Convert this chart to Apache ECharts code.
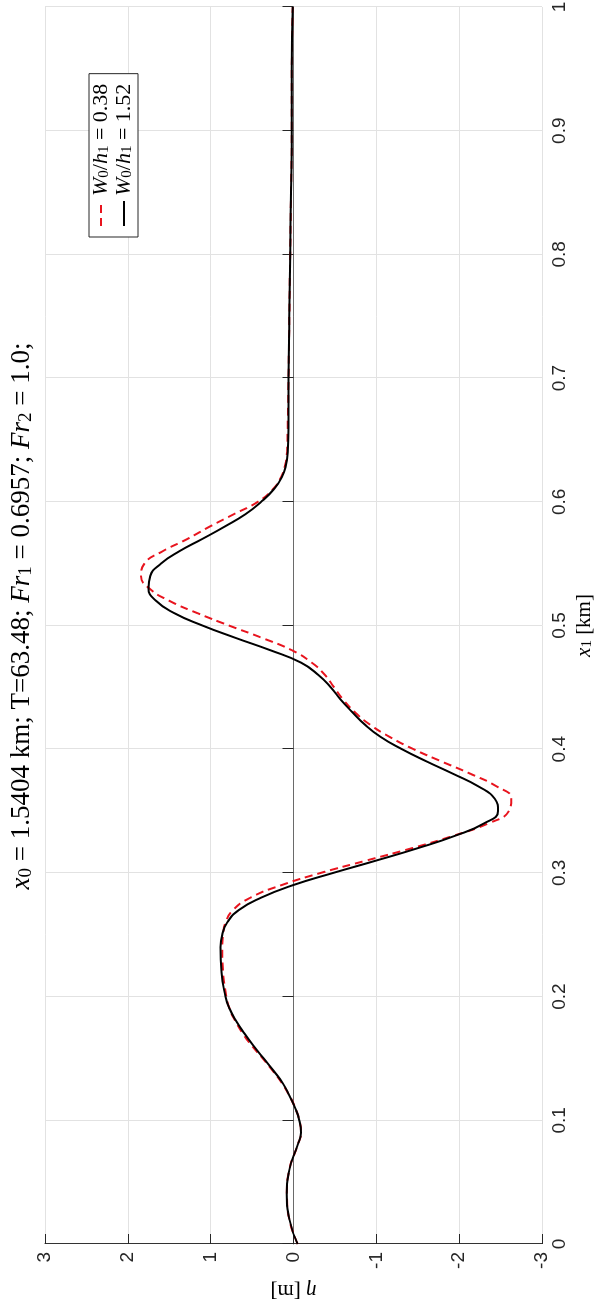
<!DOCTYPE html>
<html>
<head>
<meta charset="utf-8">
<script src="https://cdn.jsdelivr.net/npm/echarts@6/dist/echarts.min.js"></script>
<style>
  html, body { margin: 0; padding: 0; background: #fff; width: 601px; height: 1308px; overflow: hidden; }
  /* the figure is laid out landscape and turned a quarter turn counter-clockwise */
  #chart { position: absolute; left: 0; top: 0; width: 1308px; height: 601px;
           transform-origin: 0 0; transform: translate(0, 1308px) rotate(-90deg); }
</style>
</head>
<body>
<div id="chart"></div>
<script>
// along-channel position x1 [km]
const x1Km = [0, 0.02, 0.04, 0.06, 0.08, 0.09, 0.10, 0.11, 0.12, 0.13, 0.14, 0.15, 0.16, 0.17, 0.18, 0.19, 0.20,
  0.22, 0.24, 0.25, 0.26, 0.27, 0.28, 0.29, 0.30, 0.31, 0.32, 0.33, 0.34, 0.35, 0.36, 0.37, 0.38, 0.39, 0.40,
  0.41, 0.42, 0.43, 0.44, 0.45, 0.46, 0.47, 0.48, 0.49, 0.50, 0.51, 0.52, 0.53, 0.54, 0.55, 0.56, 0.57, 0.58,
  0.59, 0.60, 0.61, 0.62, 0.63, 0.64, 0.66, 0.70, 0.75, 0.80, 0.85, 0.90, 0.95, 1.0];

// interface displacement eta [m], W0/h1 = 0.38
const etaW038 = [-0.05, 0.05, 0.08, 0.05, -0.05, -0.09, -0.07, -0.02, 0.05, 0.14, 0.25, 0.37, 0.50, 0.61, 0.70, 0.77, 0.81,
  0.85, 0.86, 0.85, 0.82, 0.73, 0.52, 0.15, -0.33, -0.88, -1.43, -1.93, -2.35, -2.60, -2.63, -2.45, -2.14, -1.79, -1.45,
  -1.16, -0.92, -0.74, -0.60, -0.49, -0.38, -0.22, 0.02, 0.38, 0.78, 1.16, 1.50, 1.74, 1.84, 1.80, 1.58, 1.28, 1.01,
  0.72, 0.43, 0.25, 0.15, 0.10, 0.08, 0.07, 0.06, 0.05, 0.04, 0.03, 0.02, 0.02, 0.01];

// interface displacement eta [m], W0/h1 = 1.52
const etaW152 = [-0.05, 0.05, 0.08, 0.05, -0.05, -0.09, -0.07, -0.02, 0.05, 0.13, 0.24, 0.36, 0.48, 0.59, 0.69, 0.77, 0.82,
  0.87, 0.88, 0.86, 0.80, 0.66, 0.39, 0.01, -0.48, -1.00, -1.50, -1.95, -2.30, -2.47, -2.43, -2.23, -1.93, -1.61, -1.31,
  -1.05, -0.86, -0.71, -0.57, -0.45, -0.30, -0.09, 0.28, 0.70, 1.10, 1.44, 1.66, 1.75, 1.73, 1.60, 1.38, 1.10, 0.83,
  0.58, 0.39, 0.24, 0.14, 0.09, 0.07, 0.06, 0.06, 0.05, 0.04, 0.03, 0.02, 0.02, 0.01];

const seriesNames = ['W0/h1 = 0.38', 'W0/h1 = 1.52'];
const legendRich = {
  '0.38': '{i|W}{s|0}{n|/}{i|h}{s|1}{n| = 0.38}',
  '1.52': '{i|W}{s|0}{n|/}{i|h}{s|1}{n| = 1.52}'
};
const titleText = '{i|x}{s|0}{n| = 1.5404 km; T=63.48; }{i|Fr}{s|1}{n| = 0.6957; }{i|Fr}{s|2}{n| = 1.0;}';

const SERIF = '"Liberation Serif", "DejaVu Serif", serif';
const SANS = '"Liberation Sans", Arial, sans-serif';
const INK = '#262626';

function richSet(size) {
  return {
    n: { fontFamily: SERIF, fontSize: size, color: '#000' },
    i: { fontFamily: SERIF, fontSize: size, fontStyle: 'italic', color: '#000' },
    s: { fontFamily: SERIF, fontSize: Math.round(size * 0.7), color: '#000', verticalAlign: 'bottom', lineHeight: Math.round(size * 0.6) }
  };
}

const pairs = (ys) => x1Km.map((x, k) => [x, ys[k]]);

const chart = echarts.init(document.getElementById('chart'), null, { renderer: 'canvas' });
chart.setOption({
  animation: false,
  backgroundColor: '#fff',
  grid: { left: 64, right: 7, top: 45, bottom: 59, containLabel: false, outerBoundsMode: 'none' },
  graphic: [{
    type: 'text', x: 692, y: 22, z: 10,
    style: { text: titleText, rich: richSet(27), align: 'center', verticalAlign: 'middle',
             fontFamily: SERIF, fontSize: 27, fill: '#000' }
  }],
  legend: {
    orient: 'vertical', left: 1071, top: 89,
    padding: [1, 10, 3, 10], itemGap: 1, itemWidth: 25, itemHeight: 20,
    borderColor: INK, borderWidth: 1, borderRadius: 0, backgroundColor: '#fff',
    data: seriesNames,
    itemStyle: { opacity: 0 },
    formatter: (name) => legendRich[name.slice(-4)],
    textStyle: { fontFamily: SERIF, fontSize: 22, color: '#000', rich: richSet(22) }
  },
  xAxis: {
    type: 'value', min: 0, max: 1, interval: 0.1,
    name: '{i|x}{s|1}{n| [km]}', nameLocation: 'middle', nameGap: 31,
    nameTextStyle: { fontFamily: SERIF, fontSize: 21, color: INK, rich: richSet(21) },
    axisLine: { show: true, lineStyle: { color: '#6a6a6a', width: 1 } },
    axisTick: { show: true, inside: true, length: 11, lineStyle: { color: INK } },
    axisLabel: { fontFamily: SANS, fontSize: 19, color: INK, margin: 8, hideOverlap: false },
    splitLine: { show: true, lineStyle: { color: '#e2e2e2', width: 1 } }
  },
  yAxis: {
    type: 'value', min: -3, max: 3, interval: 1,
    name: '{i|η}{n| [m]}', nameLocation: 'middle', nameGap: 33, nameRotate: 90,
    nameTextStyle: { fontFamily: SERIF, fontSize: 21, color: INK, rich: richSet(21) },
    axisLine: { show: true, lineStyle: { color: '#333', width: 1 } },
    axisTick: { show: true, inside: true, length: 10, lineStyle: { color: INK } },
    axisLabel: { fontFamily: SANS, fontSize: 19, color: INK, margin: 8, hideOverlap: false },
    splitLine: { show: true, lineStyle: { color: '#e2e2e2', width: 1 } }
  },
  series: [
    {
      name: seriesNames[0], type: 'line', data: pairs(etaW038),
      showSymbol: false, symbol: 'none', smooth: 0.5,
      lineStyle: { color: '#e8141e', width: 2, type: [8, 5] },
      itemStyle: { color: '#e8141e' }, z: 2
    },
    {
      name: seriesNames[1], type: 'line', data: pairs(etaW152),
      showSymbol: false, symbol: 'none', smooth: 0.5,
      lineStyle: { color: '#000', width: 2, type: 'solid' },
      itemStyle: { color: '#000' }, z: 3
    }
  ]
});
</script>
</body>
</html>
